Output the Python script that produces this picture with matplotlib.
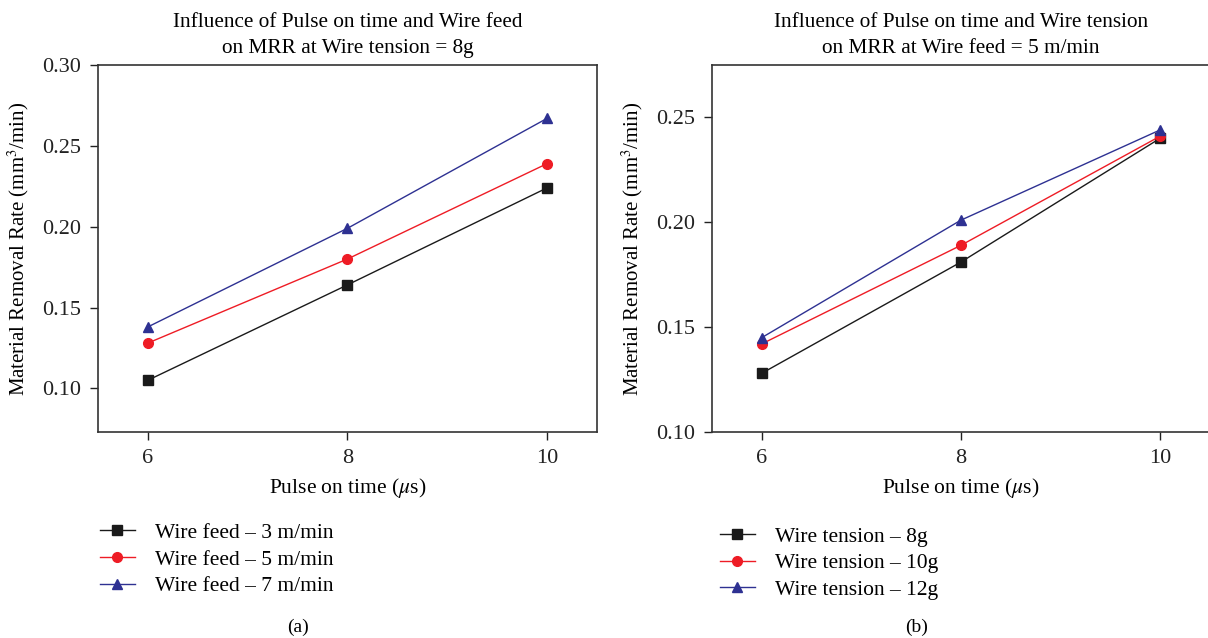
import matplotlib
matplotlib.use("Agg")
import matplotlib.pyplot as plt

plt.rcParams["font.family"] = ["Liberation Serif", "DejaVu Serif"]
plt.rcParams["mathtext.fontset"] = "stix"

# ── data ───────────────────────────────────────────────────────────────────
pulse_on = [6, 8, 10]

feed_labels = ["Wire feed \u2013 3 m/min", "Wire feed \u2013 5 m/min",
               "Wire feed \u2013 7 m/min"]
feed_3 = [0.105, 0.164, 0.224]
feed_5 = [0.128, 0.180, 0.239]
feed_7 = [0.138, 0.199, 0.267]

tension_labels = ["Wire tension \u2013 8g", "Wire tension \u2013 10g",
                  "Wire tension \u2013 12g"]
tension_8 = [0.128, 0.181, 0.240]
tension_10 = [0.142, 0.189, 0.241]
tension_12 = [0.145, 0.201, 0.244]

colors = ["#1a1a1a", "#ee1c25", "#2e3192"]
markers = ["s", "o", "^"]

fig = plt.figure(figsize=(12.08, 6.38), dpi=100)
ax_a = fig.add_axes([0.0811, 0.3229, 0.4131, 0.5752])
ax_b = fig.add_axes([0.5894, 0.3229, 0.4120, 0.5752])


def draw_panel(ax, series, labels, title, ylim, yticks, leg_anchor,
               caption, cap_x):
    for ys, lab, c, m in zip(series, labels, colors, markers):
        ax.plot(pulse_on, ys, color=c, lw=1.0, marker=m, ms=7,
                label=lab)
    ax.set_xlim(5.5, 10.5)
    ax.set_ylim(*ylim)
    ax.set_xticks(pulse_on)
    ax.set_yticks(yticks)
    ax.set_yticklabels([f"{t:.2f}" for t in yticks])
    ax.tick_params(direction="out", length=6, width=1.0, labelsize=16,
                   colors="#222222", pad=6)
    ax.set_xlabel(r"Pulse on time ($\mu$s)", fontsize=15.5, labelpad=6)
    ax.set_ylabel(r"Material Removal Rate (mm$^3$/min)", fontsize=15,
                  labelpad=8)
    ax.set_title(title, fontsize=15.3, pad=9, linespacing=1.45)
    for s in ax.spines.values():
        s.set_color("#333333")
        s.set_linewidth(1.2)
    ax.legend(loc="upper left", bbox_to_anchor=leg_anchor, frameon=False,
              fontsize=15.5, handlelength=1.6, handletextpad=0.95,
              labelspacing=0.3, borderaxespad=0, borderpad=0.1)
    fig.text(cap_x, 0.016, caption, ha="center", va="center", fontsize=14)


draw_panel(ax_a, [feed_3, feed_5, feed_7], feed_labels,
           "Influence of Pulse on time and Wire feed\non MRR at Wire tension = 8g",
           (0.073, 0.30), [0.10, 0.15, 0.20, 0.25, 0.30], (0.0, -0.242),
           "(a)", 298 / 1208)
draw_panel(ax_b, [tension_8, tension_10, tension_12], tension_labels,
           "Influence of Pulse on time and Wire tension\non MRR at Wire feed = 5 m/min",
           (0.0, 0.275), [0.10, 0.15, 0.20, 0.25], (0.012, -0.252),
           "(b)", 917 / 1208)
ax_b.set_ylim(0.10, 0.275)
ax_b.spines["right"].set_visible(False)

fig.savefig("out.png", dpi=100)
